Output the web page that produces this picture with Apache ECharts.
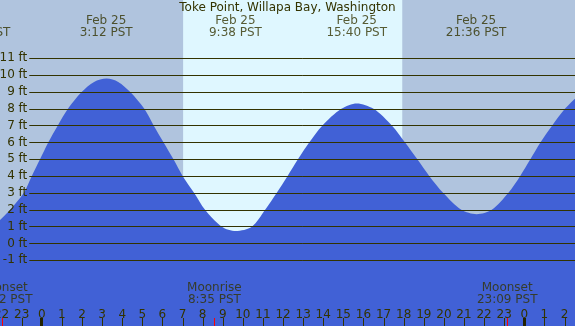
<!DOCTYPE html>
<html>
<head>
<meta charset="utf-8">
<script src="https://cdn.jsdelivr.net/npm/echarts@6/dist/echarts.min.js"></script>
<style>
  html, body { margin: 0; padding: 0; background: #b0c4de; }
  #chart { width: 575px; height: 326px; }
</style>
</head>
<body>
<div id="chart"></div>
<script>
// ---- data ----
const titleText = 'Toke Point, Willapa Bay, Washington';
// hours since midnight Feb 25 (PST) and water level in feet
const tideHours = [-2.079, -1.58, -0.9, -0.5, -0.09, 0.32, 0.79, 1.3, 1.98, 2.6, 3.22, 3.8, 4.4, 5.1, 5.57, 6.06, 6.55, 7.01, 7.58, 8.12, 8.95, 9.65, 10.45, 11.11, 11.68, 12.22, 12.74, 13.3, 13.95, 14.9, 15.67, 16.5, 17.42, 18.07, 18.68, 19.28, 19.97, 20.87, 21.63, 22.38, 23.2, 23.79, 24.3, 24.8, 25.38, 26.02, 26.522];
const tideFeet  = [1.38, 2, 3, 4, 5, 6, 7, 8, 9, 9.6, 9.8, 9.6, 9, 8, 7, 6, 5, 4, 3, 2, 1, 0.75, 1, 2, 3, 4, 5, 6, 7, 8, 8.32, 8, 7, 6, 5, 4, 3, 2, 1.74, 2, 3, 4, 5, 6, 7, 8, 8.6];
const extremeHours = [-3.07, 3.2, 9.633, 15.667, 21.6];
const extremeDates = ['Feb 24', 'Feb 25', 'Feb 25', 'Feb 25', 'Feb 25'];
const extremeTimes = ['20:56 PST', '3:12 PST', '9:38 PST', '15:40 PST', '21:36 PST'];
const moonHours = [-1.967, 8.583, 23.15];
const moonEvents = ['Moonset', 'Moonrise', 'Moonset'];
const moonTimes = ['22:02 PST', '8:35 PST', '23:09 PST'];
const sunriseHour = 7.03;
const sunsetHour = 17.93;
const hourTicks = [-2, -1, 0, 1, 2, 3, 4, 5, 6, 7, 8, 9, 10, 11, 12, 13, 14, 15, 16, 17, 18, 19, 20, 21, 22, 23, 24, 25, 26];
const midnightTicks = [0, 24];

// ---- chart ----
const FONT = 'DejaVu Sans';
const INK = '#333300';
const X_MIN = -2.079, X_MAX = 26.522;
const Y_MIN = -4.902, Y_MAX = 14.468;
const LABEL_TOP_Y = 12.9;
const LABEL_MOON_Y = -2.97;
const TICK_LEN = 8;

const chart = echarts.init(document.getElementById('chart'), null, { renderer: 'canvas' });

// tick marks: [hour, kind] kind 0 = hour, 1 = midnight, 2 = moon event
const tickData = []
  .concat(hourTicks.filter(h => midnightTicks.indexOf(h) < 0).map(h => [h, 0]))
  .concat(midnightTicks.map(h => [h, 1]))
  .concat(moonHours.map(h => [h, 2]));
const tickStyles = [
  { stroke: INK, lineWidth: 1 },
  { stroke: '#222200', lineWidth: 3 },
  { stroke: '#ff0000', lineWidth: 1 }
];

chart.setOption({
  backgroundColor: '#b0c4de',
  animation: false,
  textStyle: { fontFamily: FONT },
  title: {
    text: titleText, left: 'center', top: 2, padding: 0,
    textStyle: { fontFamily: FONT, fontSize: 12, fontWeight: 'normal', color: INK }
  },
  grid: [
    { left: 0, right: 0, top: 0, bottom: 0, containLabel: false, outerBoundsMode: 'none' },
    { left: 29.3, right: 0, top: 58.3, bottom: 65.7, containLabel: false, outerBoundsMode: 'none' }
  ],
  xAxis: [
    {
      type: 'value', gridIndex: 0, min: X_MIN, max: X_MAX, position: 'bottom', z: 8,
      axisLine: { show: false, onZero: false }, splitLine: { show: false },
      axisTick: { show: false },
      axisLabel: {
        show: true, inside: true, margin: 5, customValues: hourTicks, hideOverlap: false,
        color: INK, fontFamily: FONT, fontSize: 12,
        formatter: v => String(((Math.round(v) % 24) + 24) % 24)
      }
    },
    { type: 'value', gridIndex: 1, min: X_MIN, max: X_MAX, show: false }
  ],
  yAxis: [
    { type: 'value', gridIndex: 0, min: Y_MIN, max: Y_MAX, show: false },
    {
      type: 'value', gridIndex: 1, min: -1, max: 11, interval: 1, z: 6,
      axisLine: { show: false }, axisTick: { show: false },
      axisLabel: { show: true, margin: 2, color: INK, fontFamily: FONT, fontSize: 12, formatter: '{value} ft' },
      splitLine: { show: true, lineStyle: { color: INK, width: 1 } }
    }
  ],
  series: [
    {
      type: 'line', xAxisIndex: 0, yAxisIndex: 0, data: [], z: 1, silent: true,
      markArea: {
        silent: true,
        itemStyle: { color: '#dff7ff' },
        data: [[{ xAxis: sunriseHour }, { xAxis: sunsetHour }]]
      }
    },
    {
      type: 'line', xAxisIndex: 0, yAxisIndex: 0, z: 3, silent: true,
      data: tideHours.map((h, i) => [h, tideFeet[i]]),
      smooth: 0.3, showSymbol: false,
      lineStyle: { width: 0 },
      areaStyle: { color: '#4161d6', opacity: 1, origin: 'start' }
    },
    {
      type: 'custom', xAxisIndex: 0, yAxisIndex: 0, z: 9, silent: true, clip: false,
      data: tickData,
      renderItem: (params, api) => {
        const p = api.coord([api.value(0), Y_MIN]);
        const kind = api.value(1);
        const st = tickStyles[kind];
        const x = (kind === 1 ? Math.floor(p[0]) : Math.round(p[0])) + 0.5;
        return {
          type: 'line',
          shape: { x1: x, y1: p[1], x2: x, y2: p[1] - TICK_LEN },
          style: { stroke: st.stroke, lineWidth: st.lineWidth }
        };
      }
    },
    {
      type: 'scatter', xAxisIndex: 0, yAxisIndex: 0, z: 7, clip: false, silent: true,
      symbolSize: 0,
      data: extremeHours.map((h, i) => ({ value: [h, LABEL_TOP_Y], date: extremeDates[i], time: extremeTimes[i] })),
      label: {
        show: true, position: 'inside', color: INK, fontFamily: FONT, fontSize: 12, lineHeight: 12, align: 'center',
        formatter: p => p.data.date + '\n' + p.data.time
      }
    },
    {
      type: 'scatter', xAxisIndex: 0, yAxisIndex: 0, z: 7, clip: false, silent: true,
      symbolSize: 0,
      data: moonHours.map((h, i) => ({ value: [h, LABEL_MOON_Y], ev: moonEvents[i], time: moonTimes[i] })),
      label: {
        show: true, position: 'inside', color: INK, fontFamily: FONT, fontSize: 12, lineHeight: 12, align: 'center',
        formatter: p => p.data.ev + '\n' + p.data.time
      }
    }
  ]
});
</script>
</body>
</html>
